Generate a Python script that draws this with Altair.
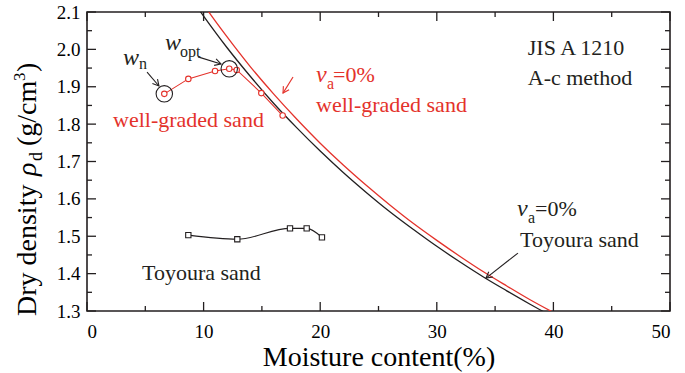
import math
import altair as alt
import pandas as pd

FONT = "Liberation Serif"
RED = "#e4322b"
BLACK = "#231f20"

# ---- compaction test results -------------------------------------------
# well-graded sand (moisture content %, dry density g/cm3)
wg_w = [6.63, 8.69, 10.98, 12.2, 12.84, 14.95, 16.78]
wg_rho = [1.881, 1.921, 1.942, 1.948, 1.945, 1.883, 1.823]

# Toyoura sand
ty_w = [8.69, 12.89, 17.41, 18.84, 20.15]
ty_rho = [1.503, 1.492, 1.521, 1.521, 1.497]

# ---- zero-air-void curves (va = 0%) ------------------------------------
zav_ty_w = [9.0, 10, 12, 14, 16, 18, 20, 22, 24, 26, 28, 30, 32, 34, 36, 38, 40]
zav_ty_rho = [2.133, 2.089, 2.005, 1.928, 1.856, 1.790, 1.728, 1.670, 1.616,
              1.565, 1.518, 1.473, 1.431, 1.391, 1.354, 1.318, 1.284]
zav_wg_w = [9.5, 10.4, 12, 14, 16, 18, 20, 22, 24, 26, 28, 30, 32, 34, 36, 38, 40.5]
zav_wg_rho = [2.143, 2.102, 2.034, 1.954, 1.881, 1.813, 1.749, 1.690, 1.635,
              1.583, 1.534, 1.489, 1.446, 1.405, 1.367, 1.330, 1.288]

# ---- axes ----------------------------------------------------------------
x_major = [0, 10, 20, 30, 40, 50]
x_minor = [5, 15, 25, 35, 45]
y_major = [1.3, 1.4, 1.5, 1.6, 1.7, 1.8, 1.9, 2.0, 2.1]
y_minor = [1.35, 1.45, 1.55, 1.65, 1.75, 1.85, 1.95, 2.05]

W, H = 583, 299
X_DOMAIN = [0, 50]
Y_DOMAIN = [1.3, 2.1]
px_per_w = W / (X_DOMAIN[1] - X_DOMAIN[0])
px_per_rho = H / (Y_DOMAIN[1] - Y_DOMAIN[0])

xs = alt.Scale(domain=X_DOMAIN, nice=False, zero=False)
ys = alt.Scale(domain=Y_DOMAIN, nice=False, zero=False)

# axis labels and title (no ticks; ticks are drawn inward below)
AX = alt.Axis(
    values=x_major, ticks=False, domain=False, grid=False, format="d",
    labelFont=FONT, labelFontSize=19, labelColor="black", labelPadding=11,
    title="Moisture content(%)", titleFont=FONT, titleFontSize=28,
    titleFontWeight="normal", titleColor="black", titlePadding=2)
AY = alt.Axis(
    values=y_major, ticks=False, domain=False, grid=False, format=".1f",
    labelFont=FONT, labelFontSize=19, labelColor="black", labelPadding=7,
    title=None)

X = lambda f: alt.X(f, type="quantitative", scale=xs, axis=AX)
Y = lambda f: alt.Y(f, type="quantitative", scale=ys, axis=AY)


# inward ticks on all four sides
def xticks(vals, length):
    d = pd.DataFrame({"w": vals})
    bottom = alt.Chart(d).mark_rule(color=BLACK, strokeWidth=1.3).encode(
        x=X("w"), y=alt.value(H), y2=alt.value(H - length))
    top = alt.Chart(d).mark_rule(color=BLACK, strokeWidth=1.3).encode(
        x=X("w"), y=alt.value(0), y2=alt.value(length))
    return [bottom, top]


def yticks(vals, length):
    d = pd.DataFrame({"rho": vals})
    left = alt.Chart(d).mark_rule(color=BLACK, strokeWidth=1.3).encode(
        y=Y("rho"), x=alt.value(0), x2=alt.value(length))
    right = alt.Chart(d).mark_rule(color=BLACK, strokeWidth=1.3).encode(
        y=Y("rho"), x=alt.value(W), x2=alt.value(W - length))
    return [left, right]


ticks = xticks(x_major, 9) + xticks(x_minor, 5) + yticks(y_major, 9) + yticks(y_minor, 5)

# zero-air-void curves
zav_ty = alt.Chart(pd.DataFrame({"w": zav_ty_w, "rho": zav_ty_rho})).mark_line(
    color=BLACK, strokeWidth=1.3, clip=True, interpolate="monotone").encode(
    x=X("w"), y=Y("rho"), order="w:Q")
zav_wg = alt.Chart(pd.DataFrame({"w": zav_wg_w, "rho": zav_wg_rho})).mark_line(
    color=RED, strokeWidth=1.3, clip=True, interpolate="monotone").encode(
    x=X("w"), y=Y("rho"), order="w:Q")

# compaction curves
wg_df = pd.DataFrame({"w": wg_w, "rho": wg_rho})
wg_line = alt.Chart(wg_df).mark_line(color=RED, strokeWidth=1.1).encode(
    x=X("w"), y=Y("rho"), order="w:Q")
wg_pts = alt.Chart(wg_df).mark_point(
    shape="circle", filled=True, fill="white", stroke=RED, strokeWidth=1.1,
    size=30, opacity=1).encode(x=X("w"), y=Y("rho"))

ty_df = pd.DataFrame({"w": ty_w, "rho": ty_rho})
ty_line = alt.Chart(ty_df).mark_line(color=BLACK, strokeWidth=1.1, interpolate="monotone").encode(
    x=X("w"), y=Y("rho"), order="w:Q")
ty_pts = alt.Chart(ty_df).mark_point(
    shape="square", filled=True, fill="white", stroke=BLACK, strokeWidth=1.1,
    size=28, opacity=1).encode(x=X("w"), y=Y("rho"))

# large circles marking natural and optimum moisture content
mark_w = [wg_w[0], wg_w[3]]
mark_rho = [wg_rho[0], wg_rho[3]]
rings = alt.Chart(pd.DataFrame({"w": mark_w, "rho": mark_rho})).mark_point(
    shape="circle", filled=False, stroke=BLACK, strokeWidth=1.1, size=270,
    opacity=1).encode(x=X("w"), y=Y("rho"))


# text annotations
def label(w, rho, text, size=22, color=BLACK, style="normal"):
    return alt.Chart(pd.DataFrame({"w": [w], "rho": [rho], "t": [text]})).mark_text(
        font=FONT, fontSize=size, color=color, fontStyle=style,
        align="left", baseline="middle").encode(x=X("w"), y=Y("rho"), text="t:N")


texts = [
    label(37.8, 2.004, "JIS A 1210"),
    label(37.8, 1.923, "A-c method"),
    label(2.23, 1.811, "well-graded sand", color=RED),
    label(19.64, 1.851, "well-graded sand", color=RED),
    label(19.64, 1.931, "v", size=24, color=RED, style="italic"),
    label(20.58, 1.908, "a", size=16, color=RED),
    label(21.1, 1.931, "=0%", size=22, color=RED),
    label(36.88, 1.573, "v", size=24, style="italic"),
    label(37.82, 1.550, "a", size=16),
    label(38.42, 1.573, "=0%", size=22),
    label(37.14, 1.490, "Toyoura sand"),
    label(4.72, 1.402, "Toyoura sand"),
    label(6.69, 2.017, "w", size=24, style="italic"),
    label(7.98, 1.993, "opt", size=16),
    label(3.09, 1.977, "w", size=24, style="italic"),
    label(4.46, 1.961, "n", size=16),
]

# arrows: start point -> tip
arrow_w0 = [5.15, 9.52, 17.67, 36.96]
arrow_r0 = [1.939, 1.980, 1.926, 1.455]
arrow_w1 = [6.17, 11.49, 16.81, 34.22]
arrow_r1 = [1.902, 1.961, 1.883, 1.388]
arrow_c = [BLACK, BLACK, RED, BLACK]

arrows = []
for w0, r0, w1, r1, c in zip(arrow_w0, arrow_r0, arrow_w1, arrow_r1, arrow_c):
    d = pd.DataFrame({"w": [w0], "rho": [r0], "w2": [w1], "rho2": [r1]})
    arrows.append(alt.Chart(d).mark_rule(color=c, strokeWidth=1.1).encode(
        x=X("w"), y=Y("rho"), x2="w2:Q", y2="rho2:Q"))
    dx = (w1 - w0) * px_per_w
    dy = -(r1 - r0) * px_per_rho
    ang = math.degrees(math.atan2(dx, -dy)) % 360
    arrows.append(alt.Chart(pd.DataFrame({"w": [w1], "rho": [r1]})).mark_point(
        shape="M -0.55 1 L 0 0 L 0.55 1", filled=False, stroke=c, strokeWidth=1.1,
        size=150, angle=ang, opacity=1).encode(x=X("w"), y=Y("rho")))


# y-axis title: Dry density  ρd  (g/cm3), rotated
def ytitle(px_x, px_y, text, size=28, style="normal"):
    return alt.Chart(pd.DataFrame({"t": [text]})).mark_text(
        font=FONT, fontSize=size, fontStyle=style, color="black", angle=270,
        align="left", baseline="alphabetic").encode(
        x=alt.value(px_x), y=alt.value(px_y), text="t:N")


ytitle_parts = [
    ytitle(-51, 304, "Dry density"),
    ytitle(-51, 164, "ρ", style="italic"),
    ytitle(-45, 149, "d", size=18),
    ytitle(-51, 134, "(g/cm"),
    ytitle(-62, 69, "3", size=17),
    ytitle(-51, 60, ")"),
]

chart = alt.layer(
    *ticks, zav_ty, zav_wg, ty_line, ty_pts, wg_line, wg_pts, rings,
    *arrows, *texts, *ytitle_parts,
).properties(
    width=W, height=H,
    autosize=alt.AutoSizeParams(type="none"),
    padding={"left": 87, "top": 12, "right": 15, "bottom": 62},
    background="white",
).configure_view(stroke=BLACK, strokeWidth=1.6)

chart.save("out.html", embed_options={"renderer": "svg", "actions": False})
